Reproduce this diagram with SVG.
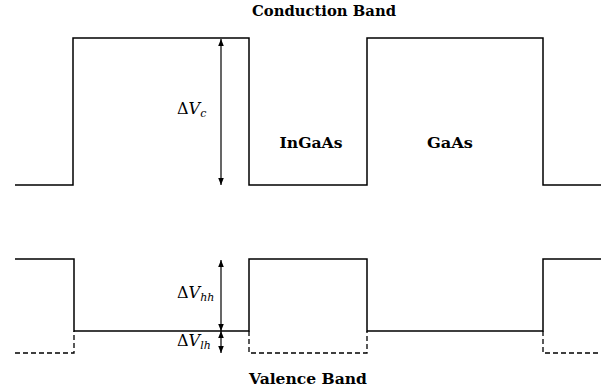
<svg xmlns="http://www.w3.org/2000/svg" width="610" height="392" viewBox="0 0 610 392">
<style>
.band{fill:none;stroke:#000;stroke-width:1.5}
.dash{fill:none;stroke:#000;stroke-width:1.3;stroke-dasharray:5,3}
.arr{stroke:#000;stroke-width:1.2;marker-start:url(#ah);marker-end:url(#ah)}
text{font-family:'DejaVu Serif','Liberation Serif',serif;fill:#000}
.title{font-weight:bold;font-size:15px}
.lbl{font-weight:bold;font-size:15px}
.math{font-size:16px}
.it{font-style:italic}
.sub{font-style:italic;font-size:11px}
</style>
<defs>
<marker id="ah" viewBox="0 0 10 10" refX="10" refY="5" markerWidth="7" markerHeight="7" markerUnits="userSpaceOnUse" orient="auto-start-reverse">
<path d="M0,1 L10,5 L0,9 z" fill="#000"/>
</marker>
</defs>
<g id="conduction-band">
<polyline class="band" points="15,185 73,185 73,38 249,38 249,185 367,185 367,38 543,38 543,185 601,185"/>
</g>
<g id="valence-band-hh">
<polyline class="band" points="15,259 74,259 74,331 249,331 249,259 367,259 367,331 543,331 543,259 601,259"/>
</g>
<g id="valence-band-lh">
<polyline class="dash" points="15,353 74,353 74,331"/>
<polyline class="dash" points="249,331 249,353 367,353 367,331"/>
<polyline class="dash" points="543,331 543,353 601,353"/>
</g>
<g id="connectors">
<line class="arr" x1="221" y1="39" x2="221" y2="185"/>
<line class="arr" x1="221" y1="260" x2="221" y2="331"/>
<line class="arr" x1="221" y1="331" x2="221" y2="353"/>
</g>
<g id="title-conduction"><text class="title" x="324" y="16" text-anchor="middle" textLength="144" lengthAdjust="spacingAndGlyphs">Conduction Band</text></g>
<g id="title-valence"><text class="title" x="308" y="384" text-anchor="middle" textLength="118" lengthAdjust="spacingAndGlyphs">Valence Band</text></g>
<g id="label-ingaas"><text class="lbl" x="311" y="148" text-anchor="middle" textLength="63" lengthAdjust="spacingAndGlyphs">InGaAs</text></g>
<g id="label-gaas"><text class="lbl" x="450" y="148" text-anchor="middle" textLength="46" lengthAdjust="spacingAndGlyphs">GaAs</text></g>
<g id="label-dvc"><text class="math" x="177" y="114">Δ<tspan class="it">V</tspan><tspan class="sub" dy="3">c</tspan></text></g>
<g id="label-dvhh"><text class="math" x="177" y="298">Δ<tspan class="it">V</tspan><tspan class="sub" dy="3">hh</tspan></text></g>
<g id="label-dvlh"><text class="math" x="177" y="346">Δ<tspan class="it">V</tspan><tspan class="sub" dy="3">lh</tspan></text></g>
</svg>
